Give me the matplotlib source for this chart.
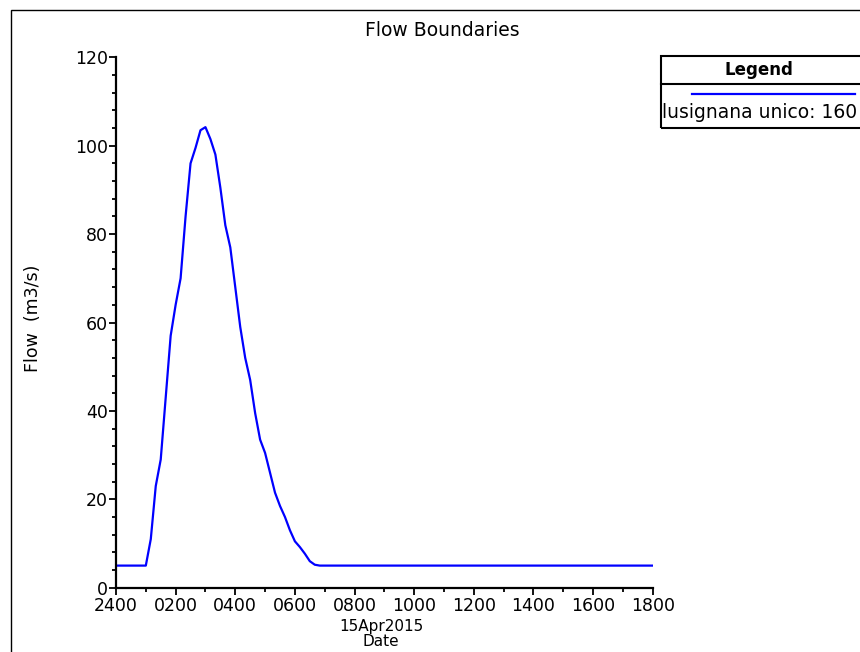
import matplotlib
matplotlib.use("Agg")
import matplotlib.pyplot as plt
from matplotlib.patches import Rectangle
from matplotlib.lines import Line2D
from matplotlib.ticker import FixedLocator, MultipleLocator

plt.rcParams['font.family'] = ['DejaVu Sans']

# ---- data (hours after 00:00 on 15Apr2015, flow in m3/s) ----
hours = [0.0, 1.0, 1.1667, 1.3333, 1.5, 1.6667, 1.8333, 2.0, 2.1667, 2.3333,
         2.5, 2.6667, 2.8333, 3.0, 3.1667, 3.3333, 3.5, 3.6667, 3.8333, 4.0,
         4.1667, 4.3333, 4.5, 4.6667, 4.8333, 5.0, 5.1667, 5.3333, 5.5, 5.6667,
         5.8333, 6.0, 6.1667, 6.3333, 6.5, 6.6667, 6.8333, 18.0]
flow = [5.0, 5.0, 11.0, 23.0, 29.0, 43.0, 57.0, 64.0, 70.0, 84.0,
        96.0, 99.5, 103.5, 104.2, 101.5, 98.0, 90.5, 82.0, 77.0, 68.0,
        59.0, 52.0, 47.0, 39.5, 33.5, 30.5, 26.0, 21.5, 18.5, 16.0,
        13.0, 10.5, 9.2, 7.7, 6.0, 5.2, 5.0, 5.0]

x_tick_pos = [0, 2, 4, 6, 8, 10, 12, 14, 16, 18]
x_tick_labels = ["2400", "0200", "0400", "0600", "0800", "1000",
                 "1200", "1400", "1600", "1800"]
y_ticks = [0, 20, 40, 60, 80, 100, 120]
series_name = "lusignana unico: 160"
title = "Flow Boundaries"
date_label = "15Apr2015"

W, H = 860, 652
fig = plt.figure(figsize=(W / 100, H / 100), dpi=100)


def fx(x):
    return x / W


def fy(y):
    return 1 - y / H


left, right, top, bottom = 116, 652.7, 57.3, 587.7
ax = fig.add_axes([fx(left), fy(bottom), fx(right) - fx(left), fy(top) - fy(bottom)])
ax.plot(hours, flow, color="#0000ff", lw=1.6, solid_joinstyle="round")
ax.set_xlim(0, 18)
ax.set_ylim(0, 120)
ax.xaxis.set_major_locator(FixedLocator(x_tick_pos))
ax.set_xticklabels(x_tick_labels)
ax.xaxis.set_minor_locator(MultipleLocator(1))
ax.set_yticks(y_ticks)
ax.yaxis.set_minor_locator(MultipleLocator(4))
for s in ["top", "right"]:
    ax.spines[s].set_visible(False)
for s in ["left", "bottom"]:
    ax.spines[s].set_linewidth(1.6)
    ax.spines[s].set_color("black")
ax.tick_params(which="major", length=5, width=1.3, labelsize=12.5, colors="black")
ax.tick_params(axis="x", which="major", pad=2)
ax.tick_params(axis="y", which="major", pad=1)
ax.tick_params(which="minor", length=3, width=1.3)
ax.patch.set_visible(False)

# axis labels
fig.text(fx(381), fy(627), date_label, ha="center", va="center", fontsize=11)
fig.text(fx(381), fy(642), "Date", ha="center", va="center", fontsize=11)
fig.text(fx(33), fy(318), "Flow  (m3/s)", ha="center", va="center", rotation=90, fontsize=12.5)
fig.text(fx(442), fy(31), title, ha="center", va="center", fontsize=13.5)

# figure border
fig.add_artist(Rectangle((fx(11), fy(700)), fx(900) - fx(11), fy(10) - fy(700),
                         transform=fig.transFigure, fill=False, ec="black", lw=1.0))

# legend box
fig.add_artist(Rectangle((fx(660.5), fy(128)), fx(870) - fx(660.5), fy(56) - fy(128),
                         transform=fig.transFigure, fill=False, ec="black", lw=1.5))
fig.add_artist(Line2D([fx(660.5), fx(870)], [fy(84.3), fy(84.3)],
                      transform=fig.transFigure, color="black", lw=1.5))
fig.text(fx(759), fy(70), "Legend", ha="center", va="center", fontsize=12, fontweight="bold")
fig.add_artist(Line2D([fx(692), fx(855)], [fy(94.3), fy(94.3)],
                      transform=fig.transFigure, color="#0000ff", lw=1.6))
fig.text(fx(662), fy(112), series_name, ha="left", va="center", fontsize=13.5)

fig.savefig("out.png", dpi=100)
